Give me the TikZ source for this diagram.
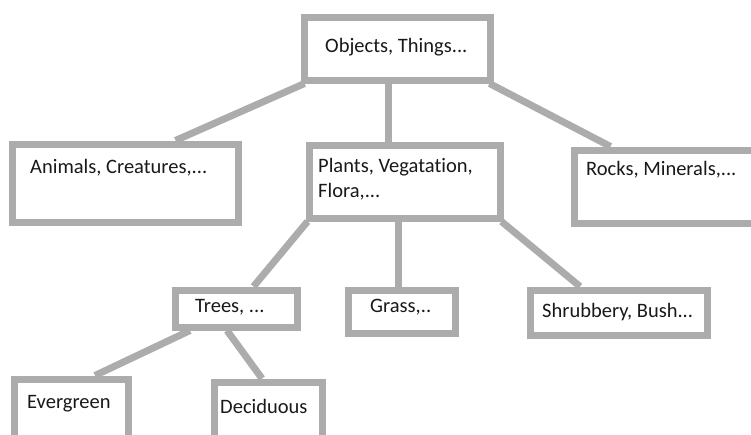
\documentclass[tikz,border=0pt]{standalone}
\usepackage{fontspec}
\setmainfont{Carlito}[Ligatures=NoCommon]
\usetikzlibrary{backgrounds}
\definecolor{boxgray}{RGB}{172,172,172}
\definecolor{txt}{RGB}{25,25,25}
\tikzset{
  box/.style={draw=boxgray, line width=7pt, fill=white, rectangle, inner sep=0pt, anchor=north west},
  lab/.style={anchor=base west, inner sep=0pt, text=txt, font=\fontsize{20.5}{25}\selectfont, align=left},
  conn/.style={draw=boxgray, line width=7pt}
}
\begin{document}
\begin{tikzpicture}[x=1pt,y=-1pt]
\useasboundingbox (0,0) rectangle (751,434);
% boxes
\node[box, minimum width=186pt, minimum height=63pt] (top) at (300.5,13.5) {};
\node[box, minimum width=226pt, minimum height=78pt] (ani) at (8.5,140.5) {};
\node[box, minimum width=191pt, minimum height=73pt] (pl) at (305.5,141.5) {};
\node[box, minimum width=200pt, minimum height=73pt] (rock) at (570.5,146.5) {};
\node[box, minimum width=122pt, minimum height=37pt] (tree) at (171.5,286.5) {};
\node[box, minimum width=107pt, minimum height=43pt] (grass) at (344.5,286.5) {};
\node[box, minimum width=177pt, minimum height=45pt] (shrub) at (526.5,286.5) {};
\node[box, minimum width=114pt, minimum height=70pt] (ever) at (10.5,375.5) {};
\node[box, minimum width=108pt, minimum height=70pt] (dec) at (210.5,378.5) {};
% texts
\node[lab] (ttop) at (325,52) {Objects, Things...};
\node[lab] (tani) at (30,173) {Animals, Creatures,...};
\node[lab] (tpl) at (318,197) {Plants, Vegatation,\\Flora,...};
\node[lab] (trock) at (586,175) {Rocks, Minerals,...};
\node[lab] (ttree) at (195,312) {Trees, ...};
\node[lab] (tgrass) at (370,312) {Grass,..};
\node[lab] (tshrub) at (542,317) {Shrubbery, Bush...};
\node[lab] (tever) at (27,408) {Evergreen};
\node[lab] (tdec) at (220,413) {Deciduous};
% connectors
\begin{scope}[on background layer]
\draw[conn] ([xshift=4pt]top.south west) -- ([xshift=50.5pt]ani.north);
\draw[conn] ([xshift=-8.5pt]top.south) -- ([xshift=-8.5pt]top.south |- pl.north);
\draw[conn] ([xshift=-4pt]top.south east) -- ([xshift=40pt]rock.north west);
\draw[conn] ([xshift=2pt]pl.south west) -- ([xshift=82pt]tree.north west);
\draw[conn] ([xshift=-3pt]grass.north) -- ([xshift=-3pt]grass.north |- pl.south);
\draw[conn] ([xshift=-2pt]pl.south east) -- ([xshift=53.5pt]shrub.north west);
\draw[conn] ([xshift=18.5pt]tree.south west) -- ([xshift=84.5pt]ever.north west);
\draw[conn] ([xshift=55.5pt]tree.south west) -- ([xshift=51.5pt]dec.north west);
\end{scope}
\end{tikzpicture}
\end{document}
